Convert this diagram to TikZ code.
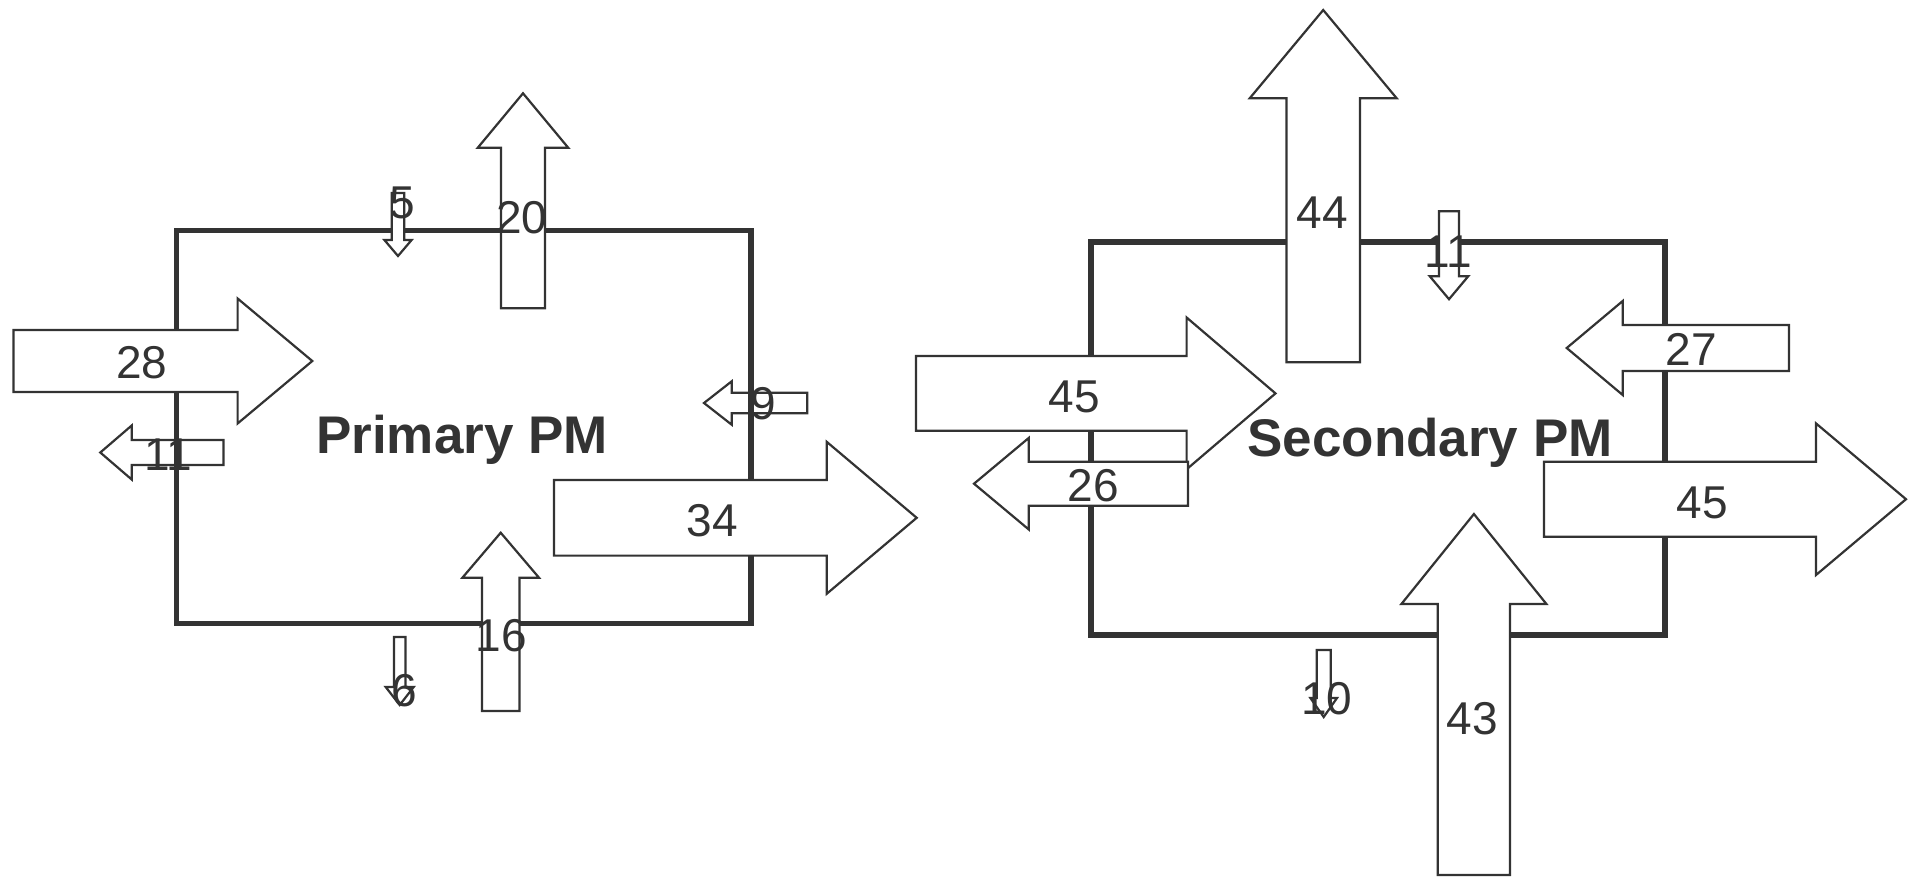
\documentclass[tikz,border=0pt]{standalone}
\usepackage{fontspec}
\setmainfont{Liberation Sans}
\definecolor{ink}{HTML}{333333}
\tikzset{
  pmbox/.style={draw=ink, line width=5.5pt, line join=miter},
  blockarrow/.style={draw=ink, fill=white, line width=2.2pt, line join=miter},
  flowlabel/.style={text=ink, font=\fontsize{46}{50}\selectfont, anchor=base, inner sep=0pt},
  pmlabel/.style={text=ink, font=\bfseries\fontsize{53}{58}\selectfont, anchor=base, inner sep=0pt},
}
% horizontal block arrow: x0 (tail), x1 (head base), x2 (tip), yc, half body, half head
\newcommand\harw[6]{%
 \draw[blockarrow] ({#1},{#4-#5}) -- ({#2},{#4-#5}) -- ({#2},{#4-#6}) -- ({#3},{#4}) -- ({#2},{#4+#6}) -- ({#2},{#4+#5}) -- ({#1},{#4+#5}) -- cycle;}
% vertical block arrow: y0 (tail), y1 (head base), y2 (tip), xc, half body, half head
\newcommand\varw[6]{%
 \draw[blockarrow] ({#4-#5},{#1}) -- ({#4-#5},{#2}) -- ({#4-#6},{#2}) -- ({#4},{#3}) -- ({#4+#6},{#2}) -- ({#4+#5},{#2}) -- ({#4+#5},{#1}) -- cycle;}
\begin{document}
\begin{tikzpicture}[x=1pt,y=-1pt]
\useasboundingbox (0,0) rectangle (1910,876);
% arrows lying under the box outline
\harw{223.4}{131.7}{100.3}{452.5}{12.5}{27}   % 11 (primary, out left)
\harw{807.3}{731.7}{704}{403}{10.3}{21.7}     % 9 (primary, in right)
% boxes
\draw[pmbox] (176.5,230.5) rectangle (751,623.5);
\draw[pmbox] (1091,242) rectangle (1665,635);
% primary arrows
\harw{13.5}{237.6}{312.3}{361}{31}{62.5}      % 28
\varw{193}{240}{256}{398}{6.3}{13.6}          % 5
\varw{308.3}{147.7}{93.3}{523}{22}{45.2}      % 20
\harw{554}{826.7}{916.7}{517.8}{37.8}{76}     % 34
\varw{711}{577.7}{532.7}{500.7}{18.7}{38.3}   % 16
\varw{637}{687}{705}{399.7}{5.8}{14}          % 6
% secondary arrows
\varw{362.3}{98.3}{10}{1323.2}{36.7}{73.5}    % 44
\varw{211.3}{276.3}{299.2}{1449}{10}{19.2}    % 11
\harw{1788.9}{1622.7}{1566.7}{348}{23}{47}    % 27
\harw{916}{1186.6}{1275.5}{393.4}{37.4}{75.9} % 45 left
\harw{1188}{1028.8}{974}{483.7}{22}{45.8}     % 26
\harw{1544}{1816}{1906}{499.2}{37.5}{75.8}    % 45 right
\varw{875}{604}{514}{1473.9}{36.1}{72.5}      % 43
\varw{650}{698}{717}{1323.7}{7}{13.3}         % 10
% titles
\node[pmlabel] (prim) at (462,453) {Primary PM};
\node[pmlabel] (sec) at (1430,456.5) {Secondary PM};
% flow values
\node[flowlabel] (l28) at (142,378) {28};
\node[flowlabel] (l11a) at (168,470.5) {11};
\node[flowlabel] (l5) at (402,218) {5};
\node[flowlabel] (l20) at (521.7,233) {20};
\node[flowlabel] (l9) at (763.3,419.5) {9};
\node[flowlabel] (l34) at (712,536.5) {34};
\node[flowlabel] (l16) at (501,651.5) {16};
\node[flowlabel] (l6) at (404,706.5) {6};
\node[flowlabel] (l44) at (1322,228) {44};
\node[flowlabel] (l11b) at (1448,267.5) {11};
\node[flowlabel] (l27) at (1691,365.5) {27};
\node[flowlabel] (l45a) at (1074,412.5) {45};
\node[flowlabel] (l26) at (1093,501.5) {26};
\node[flowlabel] (l45b) at (1702,518) {45};
\node[flowlabel] (l43) at (1472,734.5) {43};
\node[flowlabel] (l10) at (1326.7,714.5) {10};
\end{tikzpicture}
\end{document}
